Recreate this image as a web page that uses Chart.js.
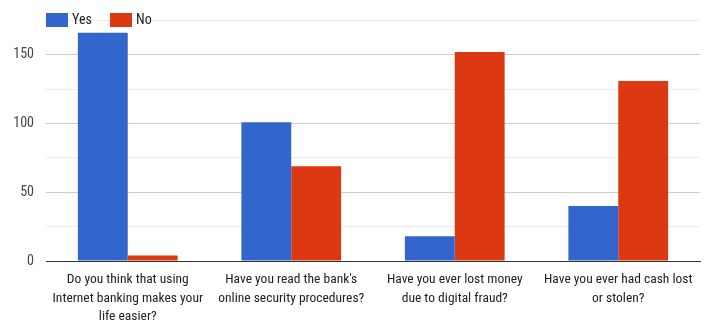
<!DOCTYPE html>
<html>
<head>
<meta charset="utf-8">
<script src="https://cdn.jsdelivr.net/npm/chart.js@4"></script>
<style>
  html, body { margin: 0; padding: 0; background: #fff; }
  #wrap { width: 707px; height: 324px; }
</style>
</head>
<body>
<div id="wrap"><canvas id="survey-chart"></canvas></div>
<script>
var categories = [
    ["Do you think that using", "Internet banking makes your", "life easier?"],
    ["Have you read the bank's", "online security procedures?"],
    ["Have you ever lost money", "due to digital fraud?"],
    ["Have you ever had cash lost", "or stolen?"]
];
var seriesNames = ['Yes', 'No'];
var seriesColors = ['#3366cc', '#dc3912'];
var yesValues = [166, 101, 18, 40];
var noValues = [4, 69, 152, 131];
var yTicks = [0, 50, 100, 150];

var FONT = "'Roboto Condensed', Roboto, sans-serif";

// legend drawn over the top-left of the plot, like the original
var topLegend = {
    id: 'topLegend',
    afterDraw: function(chart) {
        var c = chart.ctx;
        var x = chart.chartArea.left;
        c.save();
        c.font = '14px ' + FONT;
        c.textBaseline = 'middle';
        chart.data.datasets.forEach(function(ds) {
            c.fillStyle = ds.backgroundColor;
            c.fillRect(x, 13, 22, 14);
            c.fillStyle = '#222';
            c.fillText(ds.label, x + 26, 20);
            x += 64;
        });
        c.restore();
    }
};

document.addEventListener("DOMContentLoaded", function() {
    var ctx = document.getElementById('survey-chart').getContext('2d');
    new Chart(ctx, {
        type: 'bar',
        data: {
            labels: categories,
            datasets: [{
                label: seriesNames[0],
                data: yesValues,
                backgroundColor: seriesColors[0]
            }, {
                label: seriesNames[1],
                data: noValues,
                backgroundColor: seriesColors[1]
            }]
        },
        plugins: [topLegend],
        options: {
            responsive: true,
            maintainAspectRatio: false,
            animation: false,
            layout: { padding: { left: 0, right: 7, top: 15, bottom: 0 } },
            datasets: {
                bar: { categoryPercentage: 0.61, barPercentage: 1 }
            },
            plugins: {
                legend: { display: false },
                tooltip: { enabled: false }
            },
            scales: {
                x: {
                    afterFit: function(s) { s.height = 63; },
                    grid: { display: false },
                    border: { color: '#333', width: 1 },
                    ticks: {
                        color: '#222',
                        maxRotation: 0,
                        autoSkip: false,
                        padding: 2,
                        font: { family: FONT, size: 13.5, lineHeight: 1.35 }
                    }
                },
                y: {
                    min: 0,
                    max: 175,
                    afterFit: function(s) { s.width = 46; },
                    border: { display: false },
                    grid: {
                        color: function(c) {
                            if (c.tick.value === 0) return '#333';
                            return yTicks.indexOf(c.tick.value) >= 0 ? '#cccccc' : '#ebebeb';
                        },
                        drawTicks: false
                    },
                    ticks: {
                        stepSize: 25,
                        padding: 12,
                        color: '#444',
                        font: { family: FONT, size: 14 },
                        callback: function(v) {
                            return yTicks.indexOf(v) >= 0 ? v : '';
                        }
                    }
                }
            }
        }
    });
});
</script>
</body>
</html>
